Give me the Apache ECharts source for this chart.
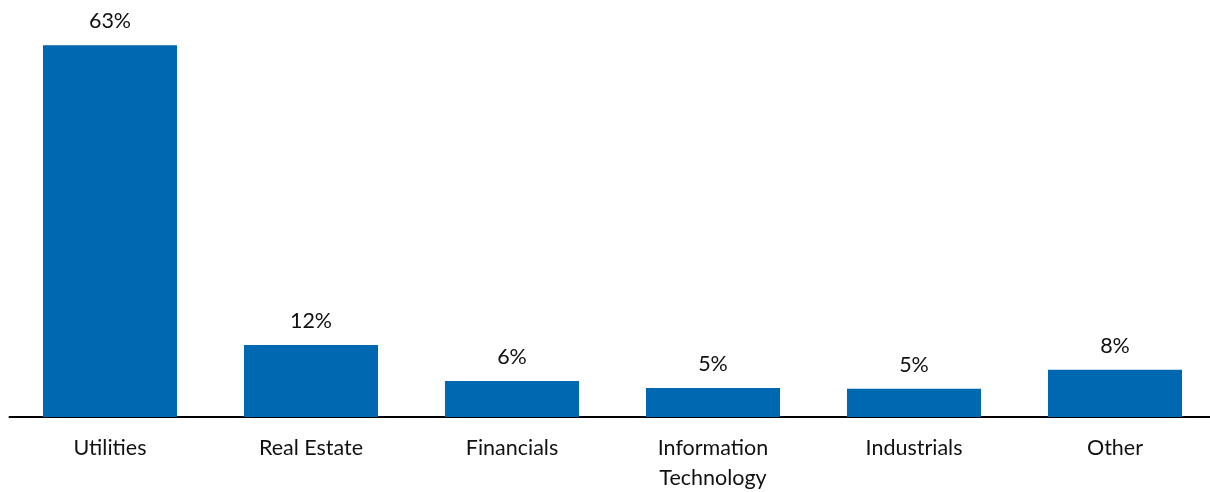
<!DOCTYPE html>
<html><head><meta charset="utf-8">
<script src="https://cdn.jsdelivr.net/npm/echarts@6/dist/echarts.min.js"></script>
<style>html,body{margin:0;padding:0;background:#fff}#c{width:1210px;height:492px}</style>
</head><body><div id="c"></div>
<script>
const categories = ['Utilities', 'Real Estate', 'Financials', 'Information\nTechnology', 'Industrials', 'Other'];
const weights = [63, 12.2, 6.1, 4.9, 4.8, 8.0];

const chart = echarts.init(document.getElementById('c'), null, {renderer: 'canvas'});
chart.setOption({
  animation: false,
  grid: {left: 9.5, width: 1206, top: 4, bottom: 75, containLabel: false, outerBoundsMode: 'none'},
  xAxis: {
    type: 'category', data: categories,
    axisLine: {lineStyle: {color: '#000', width: 2}},
    axisTick: {show: false},
    axisLabel: {color: '#111', fontFamily: 'Lato', fontSize: 21.5, lineHeight: 30, margin: 16, interval: 0}
  },
  yAxis: {type: 'value', min: 0, max: 70, show: false, splitLine: {show: false}},
  series: [{
    type: 'bar', data: weights, barWidth: '66.7%',
    itemStyle: {color: '#0067B1'},
    label: {show: true, position: 'top', distance: 13, color: '#111', fontFamily: 'Lato', fontSize: 21.5,
      formatter: p => Math.round(p.value) + '%'}
  }]
});
</script></body></html>
